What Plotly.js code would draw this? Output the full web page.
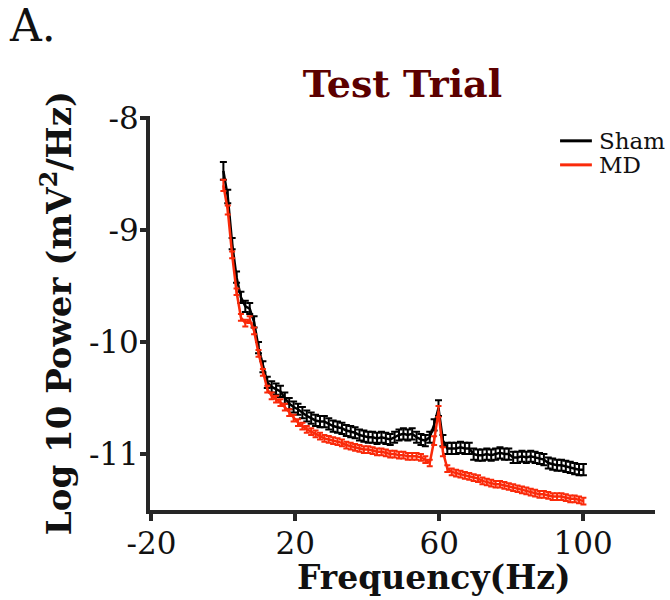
<!DOCTYPE html>
<html>
<head>
<meta charset="utf-8">
<script src="https://cdn.plot.ly/plotly-3.0.1.min.js"></script>
<style>html,body{margin:0;padding:0;background:#fff;}#chart{width:670px;height:600px;}</style>
</head>
<body>
<div id="chart"></div>
<script>
// Frequency bins (Hz)
var freq = [0, 1.22, 2.44, 3.66, 4.88, 6.10, 7.32, 8.54, 9.77, 10.99, 12.21, 13.43, 14.65, 15.87, 17.09, 18.31, 19.53, 20.75, 21.97, 23.19,
  24.41, 25.63, 26.86, 28.08, 29.30, 30.52, 31.74, 32.96, 34.18, 35.40, 36.62, 37.84, 39.06, 40.28, 41.50, 42.72, 43.95, 45.17, 46.39, 47.61,
  48.83, 50.05, 51.27, 52.49, 53.71, 54.93, 56.15, 57.37, 58.59, 59.81, 61.04, 62.26, 63.48, 64.70, 65.92, 67.14, 68.36, 69.58, 70.80, 72.02,
  73.24, 74.46, 75.68, 76.90, 78.13, 79.35, 80.57, 81.79, 83.01, 84.23, 85.45, 86.67, 87.89, 89.11, 90.33, 91.55, 92.77, 93.99, 95.21, 96.44,
  97.66, 98.88, 100.10];

// Sham: log10 power
var shamPower = [-8.47, -8.70, -9.12, -9.42, -9.60, -9.68, -9.70, -9.82, -10.05, -10.22, -10.36, -10.40, -10.42, -10.44, -10.50, -10.55, -10.58, -10.60, -10.63, -10.66,
  -10.68, -10.70, -10.71, -10.71, -10.73, -10.75, -10.76, -10.77, -10.79, -10.80, -10.81, -10.83, -10.84, -10.85, -10.85, -10.86, -10.85, -10.86, -10.87, -10.85,
  -10.83, -10.82, -10.83, -10.82, -10.85, -10.87, -10.88, -10.85, -10.74, -10.59, -10.88, -10.95, -10.95, -10.95, -10.94, -10.95, -10.95, -11.00, -11.01, -11.01,
  -11.00, -11.01, -11.00, -10.99, -11.00, -11.00, -11.03, -11.03, -11.02, -11.03, -11.02, -11.03, -11.04, -11.05, -11.08, -11.09, -11.10, -11.10, -11.11, -11.12,
  -11.13, -11.14, -11.14];
var shamErr = [0.08, 0.06, 0.05, 0.05, 0.05, 0.05, 0.05, 0.05, 0.05, 0.05, 0.05, 0.05, 0.05, 0.05, 0.05, 0.05, 0.05, 0.05, 0.05, 0.05,
  0.05, 0.05, 0.05, 0.05, 0.05, 0.05, 0.05, 0.05, 0.05, 0.05, 0.05, 0.05, 0.05, 0.05, 0.05, 0.05, 0.05, 0.05, 0.05, 0.05,
  0.05, 0.05, 0.05, 0.05, 0.05, 0.05, 0.05, 0.05, 0.05, 0.07, 0.05, 0.05, 0.05, 0.05, 0.05, 0.05, 0.05, 0.05, 0.05, 0.05,
  0.05, 0.05, 0.05, 0.05, 0.05, 0.05, 0.05, 0.05, 0.05, 0.05, 0.05, 0.05, 0.05, 0.05, 0.05, 0.05, 0.05, 0.05, 0.05, 0.05,
  0.05, 0.05, 0.05];

// MD: log10 power
var mdPower = [-8.60, -8.82, -9.22, -9.55, -9.78, -9.83, -9.80, -9.90, -10.10, -10.27, -10.42, -10.48, -10.51, -10.54, -10.58, -10.63, -10.68, -10.72, -10.75, -10.78,
  -10.80, -10.82, -10.84, -10.86, -10.87, -10.88, -10.89, -10.90, -10.92, -10.93, -10.94, -10.95, -10.96, -10.96, -10.97, -10.98, -10.98, -10.99, -11.00, -11.00,
  -11.01, -11.01, -11.02, -11.02, -11.02, -11.03, -11.05, -11.08, -10.88, -10.62, -10.98, -11.13, -11.16, -11.17, -11.18, -11.19, -11.20, -11.21, -11.22, -11.24,
  -11.25, -11.26, -11.27, -11.27, -11.28, -11.29, -11.30, -11.31, -11.32, -11.33, -11.34, -11.35, -11.36, -11.36, -11.37, -11.38, -11.38, -11.38, -11.39, -11.40,
  -11.40, -11.41, -11.42];
var mdErr = [0.05, 0.04, 0.03, 0.03, 0.03, 0.03, 0.03, 0.03, 0.03, 0.03, 0.03, 0.03, 0.03, 0.03, 0.03, 0.03, 0.03, 0.03, 0.03, 0.03,
  0.03, 0.03, 0.03, 0.03, 0.03, 0.03, 0.03, 0.03, 0.03, 0.03, 0.03, 0.03, 0.03, 0.03, 0.03, 0.03, 0.03, 0.03, 0.03, 0.03,
  0.03, 0.03, 0.03, 0.03, 0.03, 0.03, 0.03, 0.03, 0.04, 0.05, 0.04, 0.03, 0.03, 0.03, 0.03, 0.03, 0.03, 0.03, 0.03, 0.03,
  0.03, 0.03, 0.03, 0.03, 0.03, 0.03, 0.03, 0.03, 0.03, 0.03, 0.03, 0.03, 0.03, 0.03, 0.03, 0.03, 0.03, 0.03, 0.03, 0.03,
  0.03, 0.03, 0.03];

var seriesNames = ['Sham', 'MD'];
var seriesColors = ['#000000', '#fa2a0a'];
var xTickVals = [-20, 20, 60, 100];
var xTickText = ['-20', '20', '60', '100'];
var yTickVals = [-8, -9, -10, -11];
var yTickText = ['-8', '-9', '-10', '-11'];

var serif = 'DejaVu Serif, Liberation Serif, serif';
var axisColor = '#262626';

var traces = [
  {
    x: freq, y: shamPower, name: seriesNames[0], type: 'scatter', mode: 'lines',
    line: {color: seriesColors[0], width: 2.5}, showlegend: false,
    error_y: {type: 'data', array: shamErr, visible: true, color: seriesColors[0], thickness: 2, width: 3.5}
  },
  {
    x: freq, y: mdPower, name: seriesNames[1], type: 'scatter', mode: 'lines',
    line: {color: seriesColors[1], width: 2.5}, showlegend: false,
    error_y: {type: 'data', array: mdErr, visible: true, color: seriesColors[1], thickness: 2, width: 3}
  }
];

// legend (drawn as paper-positioned keys)
var legendY = [0.937, 0.876];
var shapes = [];
var annotations = [];
seriesNames.forEach(function (n, i) {
  shapes.push({type: 'line', xref: 'paper', yref: 'paper', x0: 0.812, x1: 0.875, y0: legendY[i], y1: legendY[i],
    line: {color: seriesColors[i], width: 3}});
  annotations.push({text: n, xref: 'paper', yref: 'paper', x: 0.885, y: legendY[i], xanchor: 'left', yanchor: 'middle',
    showarrow: false, font: {family: serif, size: 23, color: '#111111'}});
});
annotations.push({
  text: 'A.', xref: 'paper', yref: 'paper', x: -0.283, y: 1.30, xanchor: 'left', yanchor: 'top',
  showarrow: false, font: {family: serif, size: 44, color: '#111111'}
});
annotations.push({
  text: '<b>Frequency(Hz)</b>', xref: 'paper', yref: 'paper', x: 0.563, y: -0.172, xanchor: 'center', yanchor: 'middle',
  showarrow: false, font: {family: serif, size: 33, color: '#111111'}
});

var layout = {
  width: 670, height: 600,
  margin: {l: 150, r: 15, t: 116, b: 90, pad: 0},
  paper_bgcolor: '#ffffff', plot_bgcolor: '#ffffff',
  font: {family: serif, color: '#111111'},
  showlegend: false,
  title: {
    text: '<b>Test Trial</b>',
    font: {family: serif, size: 38, color: '#5c0000'},
    x: 0.5, xref: 'paper', xanchor: 'center',
    y: 0.86, yref: 'container', yanchor: 'middle'
  },
  xaxis: {
    range: [-20.4, 120],
    showgrid: false, zeroline: false,
    showline: true, linecolor: axisColor, linewidth: 4,
    ticks: 'outside', ticklen: 7, tickwidth: 4, tickcolor: axisColor,
    ticklabelstandoff: -4,
    tickvals: xTickVals, ticktext: xTickText,
    tickfont: {family: serif, size: 31, color: '#111111'}
  },
  yaxis: {
    range: [-11.5, -7.98],
    showgrid: false, zeroline: false,
    showline: true, linecolor: axisColor, linewidth: 4,
    ticks: 'outside', ticklen: 6, tickwidth: 4, tickcolor: axisColor,
    ticklabelstandoff: -5,
    tickvals: yTickVals, ticktext: yTickText,
    tickfont: {family: serif, size: 31, color: '#111111'},
    title: {text: '<b>Log 10 Power (mV<sup>2</sup>/Hz)</b>', font: {family: serif, size: 34, color: '#111111'}, standoff: 8}
  },
  shapes: shapes,
  annotations: annotations
};

Plotly.newPlot('chart', traces, layout, {displayModeBar: false, staticPlot: true});
</script>
</body>
</html>
